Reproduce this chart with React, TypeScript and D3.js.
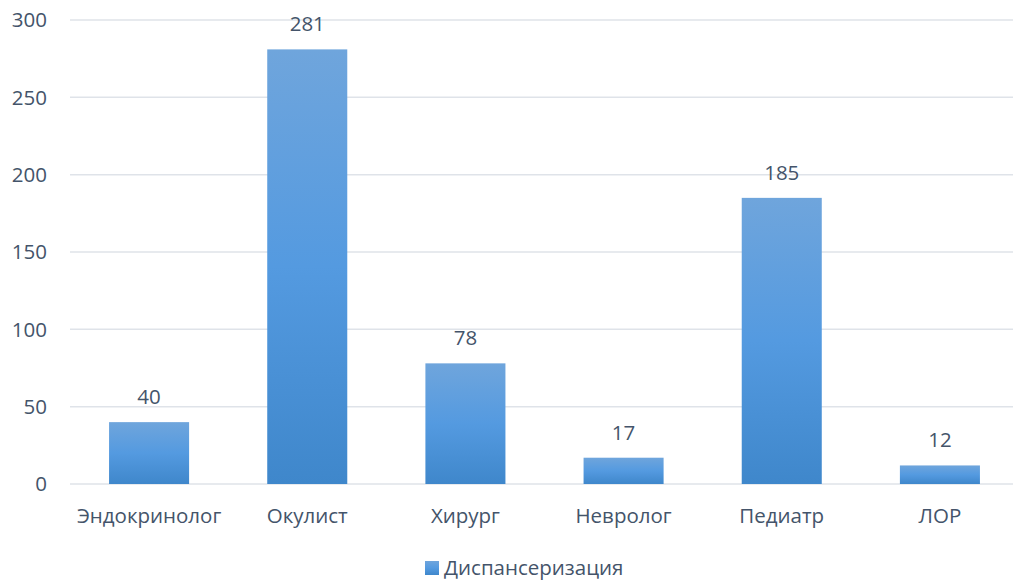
import React from "react";
import * as d3 from "d3";

const categories = ["Эндокринолог", "Окулист", "Хирург", "Невролог", "Педиатр", "ЛОР"];
const values = [40, 281, 78, 17, 185, 12];
const yTicks = [0, 50, 100, 150, 200, 250, 300];
const seriesName = "Диспансеризация";

const W = 1013;
const H = 583;
const FONT = "'Open Sans', 'Noto Sans', sans-serif";
const TEXT = "#44546a";
const FS = 20.5;

export default function App() {
  const x = d3.scaleBand<string>().domain(categories).range([70, 1019]).paddingInner(0.494).paddingOuter(0.247);
  const y = d3.scaleLinear().domain([0, 300]).range([484, 20]);

  return (
    <svg width={W} height={H} style={{ position: "absolute", left: 0, top: 0 }} fontFamily={FONT}>
      <defs>
        <linearGradient id="barGrad" x1="0" y1="0" x2="0" y2="1">
          <stop offset="0%" stopColor="#6fa5dc" />
          <stop offset="50%" stopColor="#549ae0" />
          <stop offset="100%" stopColor="#3f87cb" />
        </linearGradient>
      </defs>
      <rect width={W} height={H} fill="#fff" />
      {yTicks.map((t) => (
        <g key={t}>
          <line x1={70} x2={W} y1={y(t)} y2={y(t)} stroke="#dfe3e9" strokeWidth={1.5} />
          <text x={47} y={y(t)} dy="0.35em" textAnchor="end" fontSize={FS} fill={TEXT}>
            {t}
          </text>
        </g>
      ))}
      {categories.map((c, i) => (
        <g key={c}>
          <rect
            x={x(c)}
            y={y(values[i])}
            width={x.bandwidth()}
            height={y(0) - y(values[i])}
            fill="url(#barGrad)"
          />
          <text x={(x(c) as number) + x.bandwidth() / 2} y={y(values[i]) - 18} textAnchor="middle" fontSize={FS} fill={TEXT}>
            {values[i]}
          </text>
          <text x={(x(c) as number) + x.bandwidth() / 2} y={523} textAnchor="middle" fontSize={FS} fill={TEXT}>
            {c}
          </text>
        </g>
      ))}
      <rect x={425} y={561} width={14} height={14} fill="url(#barGrad)" />
      <text x={444} y={575} fontSize={FS} fill={TEXT}>
        {seriesName}
      </text>
    </svg>
  );
}
